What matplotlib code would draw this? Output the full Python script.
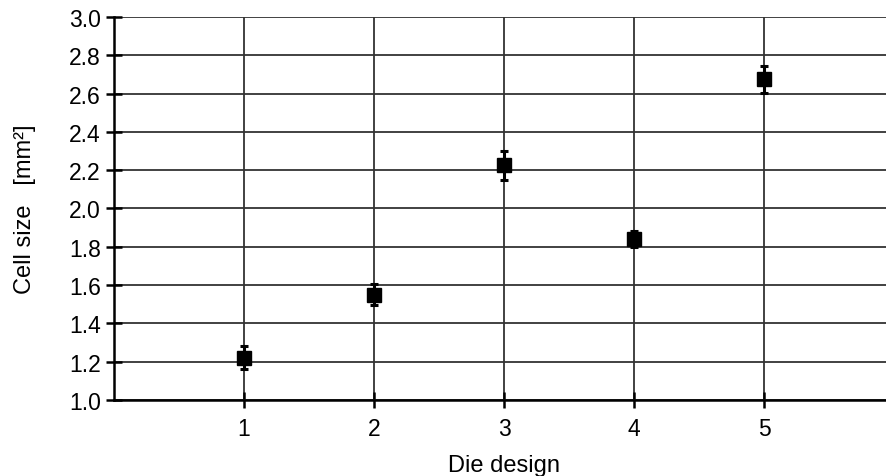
import matplotlib
matplotlib.use("Agg")
import matplotlib.pyplot as plt

designs = [1, 2, 3, 4, 5]
cell_size = [1.22, 1.55, 2.225, 1.84, 2.675]
cell_err = [0.06, 0.055, 0.075, 0.04, 0.07]
y_ticks = [1.0, 1.2, 1.4, 1.6, 1.8, 2.0, 2.2, 2.4, 2.6, 2.8, 3.0]

plt.rcParams['font.family'] = ['Liberation Sans', 'DejaVu Sans']

fig = plt.figure(figsize=(8.87, 4.77), dpi=100)
ax = fig.add_axes([0.1285, 0.1593, 0.8794, 0.9623 - 0.1593])

ax.set_xlim(0, 6)
ax.set_ylim(1.0, 3.0)
ax.set_xticks(designs)
ax.set_yticks(y_ticks)
ax.set_yticklabels([f"{v:.1f}" for v in y_ticks])

ax.grid(True, color='#333333', linewidth=1.3)
ax.set_axisbelow(True)

for s in ['top', 'right']:
    ax.spines[s].set_visible(False)
for s in ['left', 'bottom']:
    ax.spines[s].set_linewidth(1.8)
    ax.spines[s].set_color('black')

ax.tick_params(axis='both', direction='inout', length=11, width=1.8,
               labelsize=16.5, colors='black')
ax.tick_params(axis='y', pad=4)
ax.tick_params(axis='x', pad=7)

ax.errorbar(designs, cell_size, yerr=cell_err, fmt='s', color='black',
            markersize=9.5, ecolor='black', elinewidth=2.2, capsize=3.2,
            capthick=2.2, zorder=5, clip_on=False)

ax.set_xlabel('Die design', fontsize=17, labelpad=10)
ax.set_ylabel('Cell size   [mm²]', fontsize=17, labelpad=24)

fig.savefig('out.png', dpi=100)
